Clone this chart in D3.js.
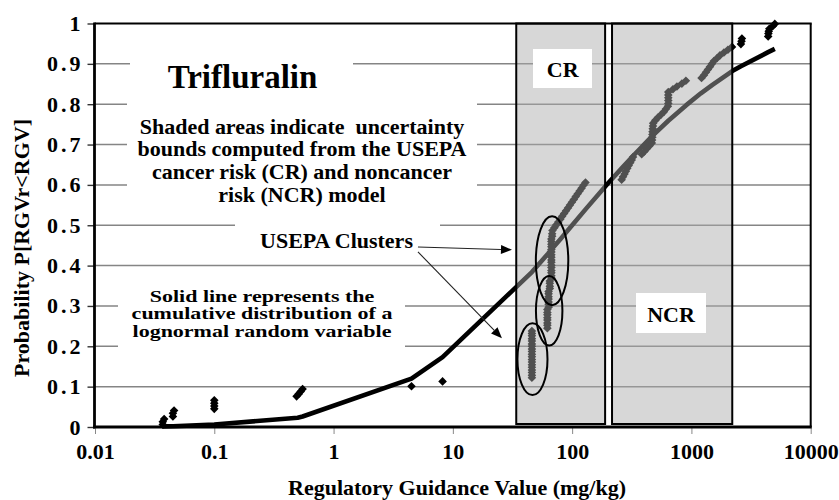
<!DOCTYPE html>
<html><head><meta charset="utf-8">
<script src="https://cdn.jsdelivr.net/npm/d3@7"></script>
<style>
body{margin:0;background:#fff;}
svg{display:block;font-family:"Liberation Serif","Times New Roman",serif;font-weight:bold;}
</style></head><body>
<svg id="chart" width="839" height="500"></svg>
<script>
// ---------- data ----------
const xTicks = [0.01, 0.1, 1, 10, 100, 1000, 10000];
const xTickLabels = ["0.01", "0.1", "1", "10", "100", "1000", "10000"];
const yTicks = [0, 0.1, 0.2, 0.3, 0.4, 0.5, 0.6, 0.7, 0.8, 0.9, 1];
const yTickLabels = ["0", "0.1", "0.2", "0.3", "0.4", "0.5", "0.6", "0.7", "0.8", "0.9", "1"];

// empirical RGV values (mg/kg) and cumulative probability
const rgv = [
  0.037, 0.037, 0.038, 0.045, 0.045, 0.046, 0.1, 0.1, 0.1, 0.1, 0.49, 0.51, 0.53, 0.55, 4.5, 8.2,
  46, 46, 46, 46, 46, 46, 46, 46, 46, 46, 46, 46, 46, 46, 46, 46, 46, 46, 46,
  62, 62, 62, 62, 62, 62, 62, 62, 63.5, 63.5, 63.5, 63.5, 63.5, 63.5, 63.5,
  65, 65, 65, 65, 67, 67, 67, 67, 67, 67, 67, 67, 67, 67, 67, 67, 67, 67, 67, 67, 68, 68,
  68.4, 71, 73.8, 76.6, 79.5, 82.5, 85.7, 88.9, 92.3, 95.9, 99.5, 103.3, 107.2, 111.4, 115.6, 120, 124.5, 129.4,
  260, 267, 275, 282, 290, 298, 307, 316, 324,
  383, 403, 424, 446,
  466, 468, 470, 471, 472, 474, 476, 478,
  499, 524, 555, 588, 611, 635,
  640, 640, 640, 640, 640,
  700, 756, 832, 899,
  1216, 1273, 1324, 1375, 1430, 1486, 1543,
  1637, 1734, 1874, 2024, 2188,
  2600, 2630, 2650,
  4400, 4420, 4450, 4500,
  4800, 5000
];
const prob = [
  0.006, 0.013, 0.020, 0.026, 0.034, 0.041, 0.045, 0.052, 0.059, 0.066, 0.076, 0.082, 0.088, 0.094, 0.101, 0.113,
  0.122, 0.128, 0.135, 0.141, 0.148, 0.154, 0.161, 0.167, 0.174, 0.180, 0.187, 0.193, 0.200, 0.206, 0.213, 0.219, 0.226, 0.232, 0.238,
  0.245, 0.252, 0.258, 0.265, 0.271, 0.278, 0.284, 0.291, 0.297, 0.304, 0.310, 0.317, 0.323, 0.330, 0.336,
  0.343, 0.349, 0.356, 0.362, 0.369, 0.375, 0.382, 0.388, 0.395, 0.401, 0.408, 0.414, 0.421, 0.427, 0.434, 0.440, 0.447, 0.453, 0.460, 0.466, 0.473, 0.479,
  0.487, 0.494, 0.501, 0.508, 0.515, 0.522, 0.529, 0.536, 0.543, 0.550, 0.557, 0.564, 0.571, 0.578, 0.585, 0.592, 0.599, 0.606,
  0.613, 0.620, 0.627, 0.634, 0.641, 0.648, 0.655, 0.662, 0.669,
  0.676, 0.683, 0.690, 0.697,
  0.704, 0.711, 0.718, 0.725, 0.732, 0.739, 0.746, 0.753,
  0.760, 0.767, 0.774, 0.781, 0.788, 0.795,
  0.802, 0.809, 0.816, 0.823, 0.830,
  0.837, 0.844, 0.851, 0.858,
  0.865, 0.872, 0.879, 0.886, 0.893, 0.900, 0.907,
  0.914, 0.921, 0.928, 0.935, 0.942,
  0.949, 0.956, 0.963,
  0.968, 0.975, 0.981, 0.987,
  0.993, 0.999
];

// lognormal cumulative distribution (solid line)
const curveRgv = [0.037, 0.045, 0.1, 0.5, 0.55, 4.5, 8.2, 46, 63, 67, 80, 100, 130, 200, 260, 330, 480, 640, 900, 1200, 1500, 2200, 2600, 4400, 5000];
const curveProb = [0.0015, 0.002, 0.006, 0.023, 0.026, 0.12, 0.173, 0.384, 0.43, 0.44, 0.466, 0.50, 0.54, 0.604, 0.641, 0.674, 0.724, 0.759, 0.797, 0.827, 0.848, 0.882, 0.894, 0.929, 0.937];

// uncertainty bands
const bandNames = ["CR", "NCR"];
const bandLow = [34, 216];
const bandHigh = [189, 2200];

// USEPA cluster ellipses (centre value, centre probability)
const clusterRgv = [46.5, 64.2, 67.9];
const clusterProb = [0.168, 0.288, 0.412];

// ---------- layout ----------
const svg = d3.select("#chart");
const L = 94.5, R = 810.7, T = 23.5, B = 427;
const x = d3.scaleLog().domain([0.01, 10000]).range([95, R]);
const y = d3.scaleLinear().domain([0, 1]).range([B, T]);

// gridlines
svg.append("g").selectAll("line").data(yTicks.slice(1, -1)).join("line")
  .attr("x1", L).attr("x2", R).attr("y1", d => y(d)).attr("y2", d => y(d))
  .attr("stroke", "#858585").attr("stroke-width", 1.5);

// solid lognormal line
const lineData = curveRgv.map((v, i) => [v, curveProb[i]]);
svg.append("path").datum(lineData)
  .attr("d", d3.line().x(d => x(d[0])).y(d => y(d[1])))
  .attr("fill", "none").attr("stroke", "#000").attr("stroke-width", 4.6)
  .attr("stroke-linejoin", "round");

// data points (diamonds)
const pts = rgv.map((v, i) => [v, prob[i]]);
const r = 4.3;
svg.append("g").selectAll("path").data(pts).join("path")
  .attr("d", d => `M${x(d[0])},${y(d[1]) - r}L${x(d[0]) + r},${y(d[1])}L${x(d[0])},${y(d[1]) + r}L${x(d[0]) - r},${y(d[1])}Z`)
  .attr("fill", "#000");

// shaded bands (translucent overlay)
bandNames.forEach((n, i) => {
  svg.append("rect")
    .attr("x", x(bandLow[i])).attr("y", T)
    .attr("width", x(bandHigh[i]) - x(bandLow[i])).attr("height", B - 3 - T)
    .attr("fill", "rgb(170,170,170)").attr("fill-opacity", 0.47)
    .attr("stroke", "#000").attr("stroke-width", 2);
});

// text boxes
function box(x0, y0, x1, y1) {
  svg.append("rect").attr("x", x0).attr("y", y0).attr("width", x1 - x0).attr("height", y1 - y0).attr("fill", "#fff");
}
function txt(lines, cx, y0, dy, size, sy) {
  sy = sy || 1;
  const g = svg.append("g").attr("transform", `translate(0,${y0}) scale(1,${sy})`);
  const t = g.append("text").attr("text-anchor", "middle").attr("font-size", size)
    .attr("fill", "#000").style("white-space", "pre");
  lines.forEach((s, i) => t.append("tspan").attr("x", cx).attr("y", i * dy / sy).text(s));
}
box(130, 46, 353, 94);
txt(["Trifluralin"], 242.5, 88.3, 0, 33);
box(127, 94, 477, 207);
txt(["Shaded areas indicate  uncertainty", "bounds computed from the USEPA", "cancer risk (CR) and noncancer", "risk (NCR) model"], 302, 133.5, 22.7, 22, 0.92);
box(235, 216, 440, 258);
txt(["USEPA Clusters"], 336.5, 248, 0, 22, 0.92);
box(118, 283, 405, 353);
txt(["Solid line represents the", "cumulative distribution of a", "lognormal random variable"], 262, 301.5, 17.9, 22, 0.8);

// band labels
box(533, 49, 592, 88);
txt(["CR"], (x(bandLow[0]) + x(bandHigh[0])) / 2 + 2, 77, 0, 22);
box(636, 293, 706, 333);
txt(["NCR"], 671, 321.5, 0, 22);

// ellipses
const ellHalfDec = [0.126, 0.111, 0.136];
const ellHalfP = [0.089, 0.086, 0.11];
clusterRgv.forEach((v, i) => {
  svg.append("ellipse")
    .attr("cx", x(v)).attr("cy", y(clusterProb[i]))
    .attr("rx", x(v * Math.pow(10, ellHalfDec[i])) - x(v))
    .attr("ry", y(0) - y(ellHalfP[i]))
    .attr("fill", "none").attr("stroke", "#000").attr("stroke-width", 2);
});

// arrows
function arrow(v0, p0, v1, p1) {
  const x0 = x(v0), y0 = y(p0), x1 = x(v1), y1 = y(p1);
  const a = Math.atan2(y1 - y0, x1 - x0), len = 11, w = 4.5;
  const bx = x1 - len * Math.cos(a), by = y1 - len * Math.sin(a);
  svg.append("line").attr("x1", x0).attr("y1", y0).attr("x2", bx).attr("y2", by)
    .attr("stroke", "#222").attr("stroke-width", 1.1);
  svg.append("path")
    .attr("d", `M${x1},${y1}L${bx + w * Math.sin(a)},${by - w * Math.cos(a)}L${bx - w * Math.sin(a)},${by + w * Math.cos(a)}Z`)
    .attr("fill", "#000");
}
arrow(5.1, 0.446, 31.3, 0.439);
arrow(5.1, 0.434, 25.8, 0.22);

// frame: top and right borders
svg.append("line").attr("x1", L).attr("x2", R + 1).attr("y1", T).attr("y2", T).attr("stroke", "#000").attr("stroke-width", 2);
svg.append("line").attr("x1", R).attr("x2", R).attr("y1", T).attr("y2", B).attr("stroke", "#000").attr("stroke-width", 2);

// y axis
const yAxis = svg.append("g").attr("transform", `translate(${L},0)`)
  .call(d3.axisLeft(y).tickValues(yTicks).tickFormat((d, i) => yTickLabels[i]).tickSize(7).tickPadding(4));
yAxis.select(".domain").remove();
yAxis.selectAll(".tick line").attr("stroke", "#333").attr("stroke-width", 1.4);
yAxis.selectAll(".tick text").attr("font-size", 22).attr("font-family", "Liberation Serif").attr("font-weight", "bold")
  .attr("fill", "#000").style("letter-spacing", "3px");
svg.append("line").attr("x1", L).attr("x2", L).attr("y1", T - 1).attr("y2", B + 1.5).attr("stroke", "#000").attr("stroke-width", 2.8);

// x axis
const xAxis = svg.append("g").attr("transform", `translate(0,${B})`)
  .call(d3.axisBottom(x).tickValues(xTicks).tickFormat((d, i) => xTickLabels[i]).tickSize(7).tickPadding(9));
xAxis.select(".domain").remove();
xAxis.selectAll(".tick line").attr("stroke", "#888").attr("stroke-width", 1);
xAxis.selectAll(".tick text").attr("font-size", 22).attr("font-family", "Liberation Serif").attr("font-weight", "bold").attr("fill", "#000");
svg.append("line").attr("x1", L - 1.4).attr("x2", R + 1).attr("y1", B).attr("y2", B).attr("stroke", "#000").attr("stroke-width", 3);

// axis titles
svg.append("text").attr("x", 457).attr("y", 495).attr("text-anchor", "middle").attr("font-size", 22)
  .text("Regulatory Guidance Value (mg/kg)");
svg.append("text").attr("transform", "translate(29,248) rotate(-90)").attr("text-anchor", "middle").attr("font-size", 22)
  .text("Probability P[RGVr<RGV]");
</script>
</body></html>
